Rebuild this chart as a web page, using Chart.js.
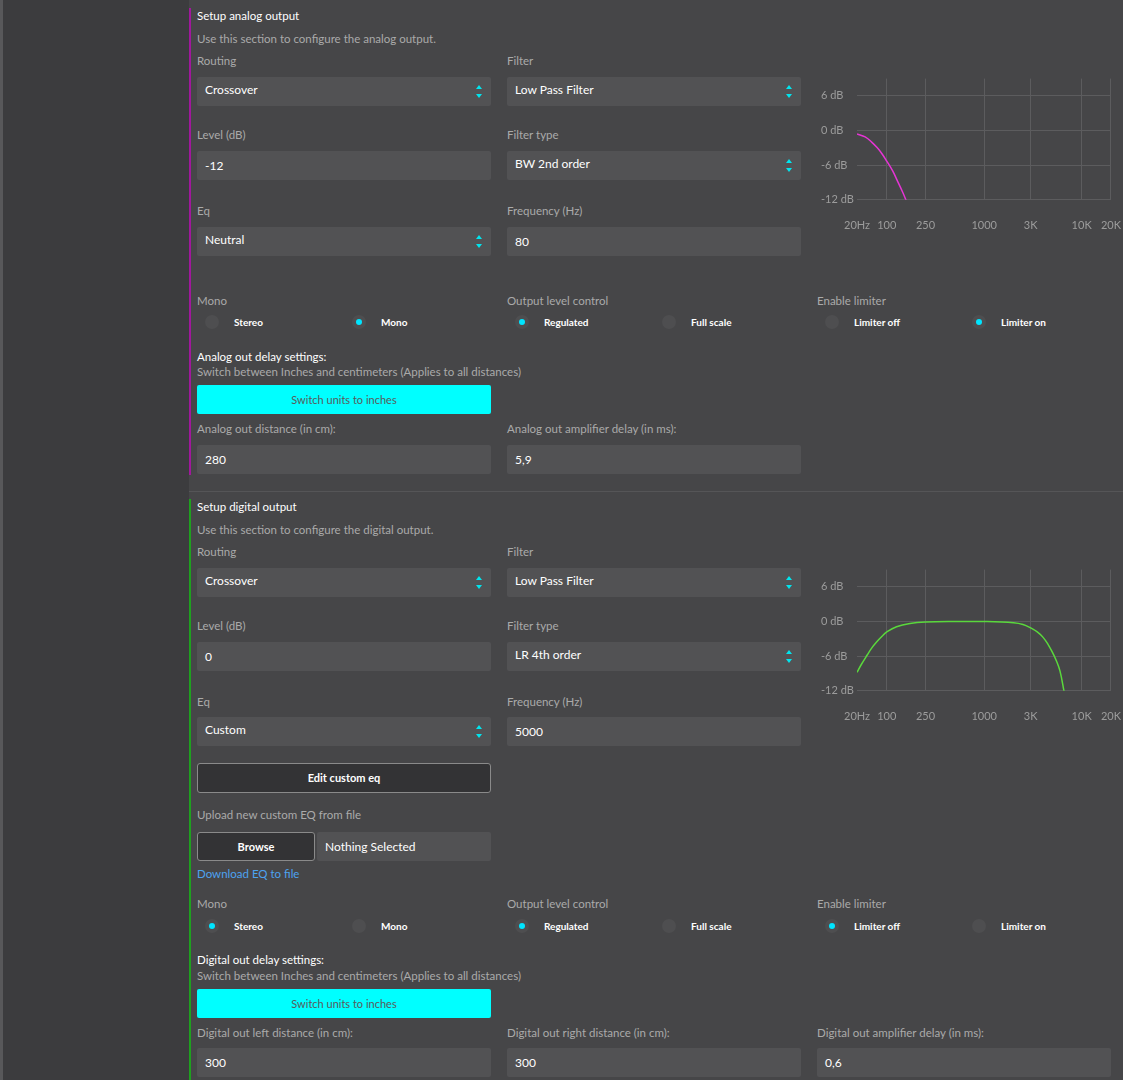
<!DOCTYPE html>
<html>
<head>
<meta charset="utf-8">
<script src="https://cdn.jsdelivr.net/npm/chart.js@4.4.1/dist/chart.umd.min.js"></script>
<style>
  html, body { margin: 0; padding: 0; }
  body {
    width: 1123px; height: 1080px; overflow: hidden; position: relative;
    background: #464648; font-family: Lato, "Open Sans", sans-serif; font-size: 11.5px; color: #aaa;
  }
  .edge { position: absolute; left: 0; top: 0; width: 3px; height: 1080px; background: #58585a; }
  .side { position: absolute; left: 3px; top: 0; width: 186px; height: 1080px; background: #3c3c3e; }
  .bar { position: absolute; left: 189px; width: 2px; }
  .divider { position: absolute; left: 189px; right: 0; top: 491px; height: 1px; background: #555557; }
  .t { position: absolute; line-height: 16px; white-space: nowrap; }
  .head { color: #fff; }
  .box {
    position: absolute; width: 294px; height: 29px; background: #525254; border-radius: 2px;
    color: #fff; line-height: 29px; box-sizing: border-box; padding-left: 8px; font-size: 12px;
  }
  .box.sel { line-height: 25px; }
  .arr { position: absolute; right: 8px; top: 8px; width: 8px; height: 13px; }
  .arr:before, .arr:after { content: ""; position: absolute; left: 1px; border-left: 3px solid transparent; border-right: 3px solid transparent; }
  .arr:before { top: 0; border-bottom: 4px solid #00e5ee; }
  .arr:after { bottom: 0; border-top: 4px solid #00e5ee; }
  .cyan {
    position: absolute; width: 294px; height: 29px; background: #00ffff; border-radius: 2px;
    color: #5a5a5a; text-align: center; line-height: 29px; font-size: 11px;
  }
  .btn {
    position: absolute; height: 30px; background: #333335; border: 1px solid #8a8a8a; border-radius: 3px;
    box-sizing: border-box; color: #fff; text-align: center; line-height: 28px; font-size: 11px; font-weight: bold;
  }
  .radio { position: absolute; width: 14px; height: 14px; border-radius: 50%; background: #4e4e50; }
  .radio.on:after { content: ""; position: absolute; left: 4px; top: 4px; width: 6px; height: 6px; border-radius: 50%; background: #00e5ff; }
  .rl { position: absolute; color: #fff; font-size: 10px; font-weight: bold; line-height: 14px; white-space: nowrap; }
  .link { color: #4da3f0; }
  .chartbox { position: absolute; left: 821px; width: 302px; height: 165px; }
</style>
</head>
<body>
<div class="edge"></div>
<div class="side"></div>
<div class="bar" style="top:8px;height:467px;background:#a0189c;"></div>
<div class="bar" style="top:499px;height:581px;background:#1fa01f;"></div>
<div class="divider"></div>

<div id="page"></div>

<div class="chartbox" style="top:69px;"><canvas id="analogChart"></canvas></div>
<div class="chartbox" style="top:560px;"><canvas id="digitalChart"></canvas></div>

<script>
// frequency response curves
const tickFreqs = [49.5, 100, 250, 1000, 3000, 10000, 20000];
const tickLabels = ["20Hz", "100", "250", "1000", "3K", "10K", "20K"];
const dbTicks = [-12, -6, 0, 6];

const analogFreqs = [49.5, 60, 70, 80, 90, 100, 115, 130, 145, 160];
const analogDb = [-0.6, -1.1, -2.0, -3.0, -4.1, -5.3, -7.0, -8.9, -10.6, -12.3];

const digitalFreqs = [49.5, 55, 63, 70, 79, 90, 100, 126, 173, 250, 500, 1000, 2000, 2500, 3000, 3500, 4000, 4500, 5000, 5500, 6000, 6650];
const digitalDb = [-8.8, -7.4, -5.8, -4.6, -3.5, -2.5, -1.8, -0.9, -0.35, -0.1, 0, 0, -0.2, -0.5, -1.1, -1.8, -2.7, -3.9, -5.3, -6.8, -8.6, -12.4];

// ---- form layout ----
const page = document.getElementById("page");
const cols = [197, 507, 817];

function text(x, y, s, cls) {
  page.innerHTML += `<div class="t ${cls || ""}" style="left:${x}px;top:${y}px">${s}</div>`;
}
function box(x, y, s, select) {
  page.innerHTML += `<div class="box ${select ? "sel" : ""}" style="left:${x}px;top:${y}px">${s}${select ? '<span class="arr"></span>' : ""}</div>`;
}
function radios(x, y, a, b, aOn) {
  page.innerHTML += `
    <div class="radio ${aOn ? "on" : ""}" style="left:${x + 8}px;top:${y - 7}px"></div>
    <div class="rl" style="left:${x + 37}px;top:${y - 7}px">${a}</div>
    <div class="radio ${aOn ? "" : "on"}" style="left:${x + 155}px;top:${y - 7}px"></div>
    <div class="rl" style="left:${x + 184}px;top:${y - 7}px">${b}</div>`;
}
function cyan(x, y) {
  page.innerHTML += `<div class="cyan" style="left:${x}px;top:${y}px">Switch units to inches</div>`;
}

// analog
text(197, 8, "Setup analog output", "head");
text(197, 31, "Use this section to configure the analog output.");
text(cols[0], 53, "Routing"); text(cols[1], 53, "Filter");
box(cols[0], 77, "Crossover", true); box(cols[1], 77, "Low Pass Filter", true);
text(cols[0], 127, "Level (dB)"); text(cols[1], 127, "Filter type");
box(cols[0], 151, "-12"); box(cols[1], 151, "BW 2nd order", true);
text(cols[0], 203, "Eq"); text(cols[1], 203, "Frequency (Hz)");
box(cols[0], 227, "Neutral", true); box(cols[1], 227, "80");
text(cols[0], 293, "Mono"); text(cols[1], 293, "Output level control"); text(cols[2], 293, "Enable limiter");
radios(cols[0], 322, "Stereo", "Mono", false);
radios(cols[1], 322, "Regulated", "Full scale", true);
radios(cols[2], 322, "Limiter off", "Limiter on", false);
text(197, 349, "Analog out delay settings:", "head");
text(197, 364, "Switch between Inches and centimeters (Applies to all distances)");
cyan(197, 385);
text(cols[0], 421, "Analog out distance (in cm):"); text(cols[1], 421, "Analog out amplifier delay (in ms):");
box(cols[0], 445, "280"); box(cols[1], 445, "5,9");

// digital
text(197, 499, "Setup digital output", "head");
text(197, 522, "Use this section to configure the digital output.");
text(cols[0], 544, "Routing"); text(cols[1], 544, "Filter");
box(cols[0], 568, "Crossover", true); box(cols[1], 568, "Low Pass Filter", true);
text(cols[0], 618, "Level (dB)"); text(cols[1], 618, "Filter type");
box(cols[0], 642, "0"); box(cols[1], 642, "LR 4th order", true);
text(cols[0], 694, "Eq"); text(cols[1], 694, "Frequency (Hz)");
box(cols[0], 717, "Custom", true); box(cols[1], 717, "5000");
page.innerHTML += `<div class="btn" style="left:197px;top:763px;width:294px">Edit custom eq</div>`;
text(197, 807, "Upload new custom EQ from file");
page.innerHTML += `<div class="btn" style="left:197px;top:832px;width:118px;height:29px;line-height:27px">Browse</div>`;
page.innerHTML += `<div class="box" style="left:317px;top:832px;width:174px;height:29px">Nothing Selected</div>`;
text(197, 866, "Download EQ to file", "link");
text(cols[0], 896, "Mono"); text(cols[1], 896, "Output level control"); text(cols[2], 896, "Enable limiter");
radios(cols[0], 926, "Stereo", "Mono", true);
radios(cols[1], 926, "Regulated", "Full scale", true);
radios(cols[2], 926, "Limiter off", "Limiter on", true);
text(197, 952, "Digital out delay settings:", "head");
text(197, 968, "Switch between Inches and centimeters (Applies to all distances)");
cyan(197, 989);
text(cols[0], 1025, "Digital out left distance (in cm):");
text(cols[1], 1025, "Digital out right distance (in cm):");
text(cols[2], 1025, "Digital out amplifier delay (in ms):");
box(cols[0], 1048, "300"); box(cols[1], 1048, "300"); box(cols[2], 1048, "0,6");

// ---- response charts ----
const gridColor = "#5c5c5e";
const tickColor = "#9c9c9c";

function makeChart(id, freqs, db, color) {
  const ctx = document.getElementById(id).getContext("2d");
  return new Chart(ctx, {
    type: "line",
    data: {
      datasets: [{
        data: freqs.map((f, i) => ({ x: f, y: db[i] })),
        borderColor: color,
        borderWidth: 1.5,
        pointRadius: 0,
        tension: 0.4,
        fill: false
      }]
    },
    options: {
      responsive: true,
      maintainAspectRatio: false,
      animation: false,
      layout: { padding: 0 },
      plugins: { legend: { display: false }, tooltip: { enabled: false } },
      scales: {
        x: {
          type: "logarithmic",
          min: tickFreqs[0],
          max: tickFreqs[tickFreqs.length - 1],
          afterBuildTicks: s => { s.ticks = tickFreqs.map(v => ({ value: v })); },
          border: { display: false },
          grid: {
            drawTicks: true,
            tickLength: 17,
            tickColor: "rgba(0,0,0,0)",
            color: c => (c.index === 0 ? "rgba(0,0,0,0)" : gridColor)
          },
          ticks: {
            autoSkip: false, maxRotation: 0, padding: 2, color: tickColor,
            font: { family: "Lato", size: 11 },
            callback: (v, i) => tickLabels[i]
          }
        },
        y: {
          min: -12,
          max: 9,
          afterBuildTicks: s => { s.ticks = dbTicks.map(v => ({ value: v })); },
          afterFit: s => { s.width = 36; },
          border: { display: false },
          grid: { drawTicks: false, color: gridColor },
          ticks: {
            crossAlign: "far", color: tickColor,
            font: { family: "Lato", size: 11 },
            callback: v => v + " dB"
          }
        }
      }
    }
  });
}

makeChart("analogChart", analogFreqs, analogDb, "#e535d4");
makeChart("digitalChart", digitalFreqs, digitalDb, "#5ad83c");
</script>
</body>
</html>
